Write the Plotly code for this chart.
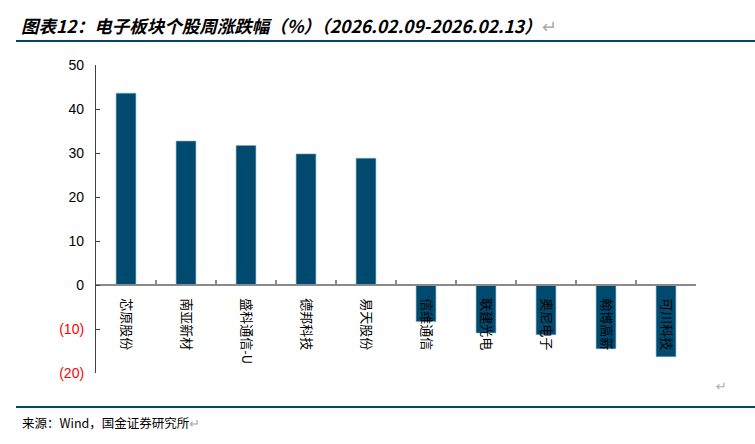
import plotly.graph_objects as go

categories = ["芯原股份", "南亚新材", "盛科通信-U", "德邦科技", "易天股份",
              "信维通信", "联建光电", "奥尼电子", "翰博高新", "可川科技"]
values = [43.6, 32.7, 31.7, 29.8, 28.8, -8.3, -10.9, -11.3, -14.5, -16.3]

y_tickvals = [50, 40, 30, 20, 10, 0, -10, -20]
y_ticktext = ["50", "40", "30", "20", "10", "0",
              "<span style='color:#FF0000'>(10)</span>",
              "<span style='color:#FF0000'>(20)</span>"]

title_text = "图表12：电子板块个股周涨跌幅（%）（2026.02.09-2026.02.13）"
source_text = "来源：Wind，国金证券研究所"

y_min, y_max = -20, 50

fig = go.Figure()
fig.add_trace(go.Bar(
    x=categories, y=values,
    marker=dict(color="#004A6F", line=dict(color="#7FA6BF", width=0.6)),
    width=0.33,
))

W, H = 755, 444
L, R, T, B = 96, 59, 65, 71

def px(xp):
    return (xp - L) / (W - L - R)

def py(yp):
    return (H - B - yp) / (H - T - B)

fig.update_layout(
    width=W, height=H,
    margin=dict(l=L, r=R, t=T, b=B),
    plot_bgcolor="white", paper_bgcolor="white",
    showlegend=False,
    xaxis=dict(
        type="category", range=[-0.5, 9.5],
        anchor="free", position=(0 - y_min) / (y_max - y_min),
        showline=True, linecolor="#8A8A8A", linewidth=1.5,
        ticks="inside", ticklen=4, tickcolor="#8A8A8A", tickwidth=1.5,
        tickson="boundaries",
        tickangle=90,
        tickfont=dict(family="Noto Sans CJK SC", size=13, color="black"),
        ticklabelstandoff=10,
        showgrid=False, zeroline=False,
    ),
    yaxis=dict(
        range=[y_min, y_max],
        tickvals=y_tickvals, ticktext=y_ticktext,
        showline=True, linecolor="#404040", linewidth=1.2,
        ticks="inside", ticklen=4, tickcolor="#404040",
        tickfont=dict(family="Liberation Sans", size=14, color="black"),
        ticklabelstandoff=8,
        showgrid=False, zeroline=False,
    ),
    shapes=[
        dict(type="line", xref="paper", yref="paper",
             x0=px(16), x1=px(755), y0=py(41), y1=py(41),
             line=dict(color="#00466E", width=2)),
        dict(type="line", xref="paper", yref="paper",
             x0=px(16), x1=px(755), y0=py(407), y1=py(407),
             line=dict(color="#00466E", width=2)),
    ],
    annotations=[
        dict(text="<b><i>" + title_text + "</i></b><span style='color:#AAAAAA'>↵</span>",
             xref="paper", yref="paper", x=px(19), y=py(26),
             xanchor="left", yanchor="middle", showarrow=False,
             font=dict(family="Noto Sans CJK SC", size=17.5, color="black")),
        dict(text=source_text + "<span style='color:#AAAAAA'>↵</span>",
             xref="paper", yref="paper", x=px(20), y=py(422),
             xanchor="left", yanchor="middle", showarrow=False,
             font=dict(family="Noto Sans CJK SC", size=12.5, color="black")),
        dict(text="↵", xref="paper", yref="paper", x=px(722), y=py(386),
             xanchor="center", yanchor="middle", showarrow=False,
             font=dict(family="DejaVu Sans", size=13, color="#AAAAAA")),
    ],
)

fig.write_html("out.html", config={"displayModeBar": False},
               post_script="document.body.style.margin='0';")
